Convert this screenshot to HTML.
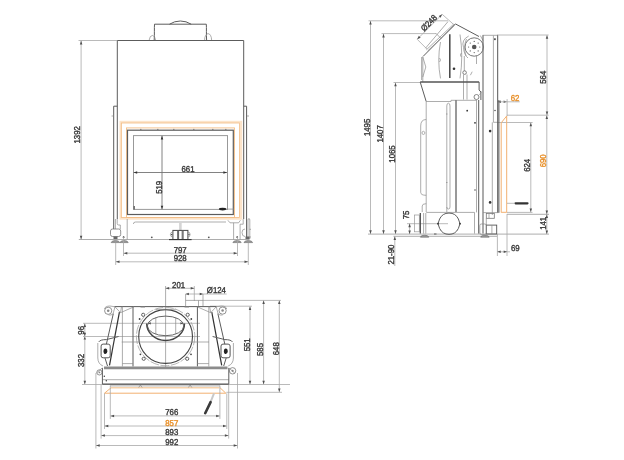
<!DOCTYPE html>
<html><head><meta charset="utf-8"><style>
html,body{margin:0;padding:0;background:#fff;width:624px;height:460px;overflow:hidden}
svg{display:block;will-change:transform}
text{font-family:"Liberation Sans",sans-serif;text-rendering:geometricPrecision}
.m{fill:none;stroke:#5c5c5c;stroke-width:1}
.t{fill:none;stroke:#8a8a8a;stroke-width:0.7}
.d{fill:none;stroke:#a8a8a8;stroke-width:0.8}
.dd{fill:none;stroke:#747474;stroke-width:0.9}
.o{fill:none;stroke:#f2b77a;stroke-width:1}
.k{fill:none;stroke:#333;stroke-width:1.4}
</style></head><body>
<svg width="624" height="460" viewBox="0 0 624 460">
<path class="m" d="M154.2,40 C154.6,34 154.2,28 154.5,24.2 L206.3,24.2 C206.6,28 206.2,34 206.6,40" />
<path class="m" d="M169.5,24.2 A20,20 0 0 1 191.2,24.2" />
<path class="t" d="M149.2,40 A3.3,6 0 0 1 155.6,40 M204.6,40 A3.3,6 0 0 1 211.6,40" />
<path class="m" d="M117.3,219 L117.3,40.5 L243.7,40.5 L243.7,219" />
<path class="m" d="M117.3,106.2 L113.7,106.2 L113.7,229 M243.7,106.2 L246.6,106.2 L246.6,239" />
<path class="t" d="M111.5,116 L113.6,116 M247,116 L249,116" />
<rect x="120.6" y="121.9" width="120.5" height="96.7" fill="none" stroke="#fce4ca" stroke-width="2.2"/>
<rect x="121.3" y="123" width="118.2" height="94.5" fill="none" stroke="#f3bb82" stroke-width="0.8"/>
<rect x="126.5" y="127.9" width="108" height="89.6" fill="none" stroke="#f3bd85" stroke-width="0.9"/>
<rect x="127.5" y="130.2" width="105.8" height="84.3" fill="none" stroke="#5c5c5c" stroke-width="1.2"/>
<rect x="133.5" y="135.6" width="94" height="73.8" fill="none" stroke="#999" stroke-width="1"/>
<path stroke="#666" stroke-width="0.7" d="M140,129.4 l1.5,0"/>
<path stroke="#666" stroke-width="0.7" d="M157,129.4 l1.5,0"/>
<path stroke="#666" stroke-width="0.7" d="M173,129.4 l1.5,0"/>
<path stroke="#666" stroke-width="0.7" d="M193,129.4 l1.5,0"/>
<path stroke="#666" stroke-width="0.7" d="M212,129.4 l1.5,0"/>
<path stroke="#666" stroke-width="0.7" d="M225,129.4 l1.5,0"/>
<ellipse cx="222.6" cy="209.1" rx="3.7" ry="1.4" fill="#222"/>
<path class="t" d="M226.50,209.10 L234.00,209.10"/>
<path fill="#555" d="M133.6,206 l1.2,0 l0,3.4 l-1.2,0z"/>
<path class="t" d="M133.4,224 Q133.4,222 135.5,222 L226,222" />
<path class="t" d="M127.2,219 L127.2,239.5" />
<path class="t" d="M227.9,220.3 L230,222.8 L238.6,222.8 L240.4,220.3" />
<path class="t" d="M233.6,222.8 L233.6,239.5" />
<path class="t" d="M78.80,239.50 L249.50,239.50"/>
<rect x="179.1" y="222.5" width="2.6" height="7.9" fill="#d4d4d4"/>
<rect x="172.9" y="230.4" width="15" height="9.1" fill="none" stroke="#444" stroke-width="1"/>
<path class="m" d="M177.7,230.4 V239.5 M178.6,230.4 V239.5 M182.2,230.4 V239.5 M183.1,230.4 V239.5" />
<path class="t" d="M172.9,232 Q170.4,232 170.4,234.5 Q170.4,237 172.9,237 M187.9,232 Q190.1,232 190.1,234.5 Q190.1,237 187.9,237" />
<circle cx="171.6" cy="234.6" r="0.7" fill="#333"/><circle cx="189" cy="234.6" r="0.7" fill="#333"/>
<path fill="none" stroke="#333" stroke-width="1.1" d="M169,239.6 L191.6,239.6"/>
<circle cx="151.8" cy="237.3" r="0.9" fill="#555"/><circle cx="208.8" cy="237.3" r="0.9" fill="#555"/>
<path class="t" d="M117.2,219 L117.2,223.5 Q117.2,225 118.7,225 L120.3,225 L120.3,229" />
<path class="t" d="M115.4,219 L115.4,229" />
<rect x="110.5" y="229" width="10.2" height="7.5" rx="2" fill="none" stroke="#777" stroke-width="0.8"/>
<rect x="113.5" y="236.5" width="4" height="2.6" fill="#666"/>
<path class="t" d="M243.2,219 L243.2,224.2 L240.1,224.2 L240.1,239.5" />
<path class="t" d="M245,229 Q242,229 242,232.5 Q242,236.5 245,236.5" />
<path class="t" d="M248,239 L248,220 Q248,218.5 249,218.5 Q249.8,218.5 249.8,220 L249.8,239" />
<path class="t" d="M249.5,229.3 L251,229.3 M249.5,237 L251,237" />
<rect x="245.5" y="236.5" width="4" height="2.6" fill="#666"/>
<path fill="#9a9a9a" stroke="#666" stroke-width="0.6" d="M111.2,242.6 C111.8,239.9 119.1,239.9 119.7,242.6 Z M120,242.6 C120.6,239.9 127.6,239.9 128.2,242.6 Z M232.9,242.6 C233.5,239.9 240.6,239.9 241.2,242.6 Z M244,242.6 C244.6,239.9 252,239.9 252.6,242.6 Z"/>
<circle cx="123.6" cy="237.2" r="0.9" fill="#333"/><circle cx="237.2" cy="237.1" r="0.9" fill="#333"/>
<path class="d" d="M78.50,40.50 L117.00,40.50"/>
<path class="d" d="M81.10,40.80 L81.10,239.40"/>
<path fill="#505050" d="M81.10,40.80 L82.35,44.40 L79.85,44.40Z"/>
<path fill="#505050" d="M81.10,239.40 L79.85,235.80 L82.35,235.80Z"/>
<path class="d" d="M123.50,237.00 L123.50,256.00"/>
<path class="d" d="M237.50,237.00 L237.50,256.00"/>
<path class="d" d="M123.70,253.20 L237.30,253.20"/>
<path fill="#505050" d="M123.70,253.20 L127.30,251.95 L127.30,254.45Z"/>
<path fill="#505050" d="M237.30,253.20 L233.70,254.45 L233.70,251.95Z"/>
<path class="d" d="M115.70,243.00 L115.70,265.00"/>
<path class="d" d="M248.30,243.00 L248.30,265.00"/>
<path class="d" d="M115.90,261.80 L248.10,261.80"/>
<path fill="#505050" d="M115.90,261.80 L119.50,260.55 L119.50,263.05Z"/>
<path fill="#505050" d="M248.10,261.80 L244.50,263.05 L244.50,260.55Z"/>
<path class="dd" d="M162.00,135.80 L162.00,209.30"/>
<path fill="#333" d="M162.00,135.80 L163.25,139.40 L160.75,139.40Z"/>
<path fill="#333" d="M162.00,209.30 L160.75,205.70 L163.25,205.70Z"/>
<path class="dd" d="M133.60,172.50 L227.00,172.50"/>
<path fill="#333" d="M133.60,172.50 L137.20,171.25 L137.20,173.75Z"/>
<path fill="#333" d="M227.00,172.50 L223.40,173.75 L223.40,171.25Z"/>
<text transform="translate(80.30,134.80) rotate(-90) scale(0.92,1)" text-anchor="middle" style="font-size:8.5px;fill:#3a3a3a;stroke:#3a3a3a;stroke-width:0.4">1392</text>
<text transform="translate(180.20,252.60) rotate(0) scale(0.92,1)" text-anchor="middle" style="font-size:8.5px;fill:#3a3a3a;stroke:#3a3a3a;stroke-width:0.4">797</text>
<text transform="translate(180.20,261.40) rotate(0) scale(0.92,1)" text-anchor="middle" style="font-size:8.5px;fill:#3a3a3a;stroke:#3a3a3a;stroke-width:0.4">928</text>
<text transform="translate(188.00,171.50) rotate(0) scale(0.92,1)" text-anchor="middle" style="font-size:8.5px;fill:#3a3a3a;stroke:#3a3a3a;stroke-width:0.4">661</text>
<text transform="translate(161.80,187.30) rotate(-90) scale(0.92,1)" text-anchor="middle" style="font-size:8.5px;fill:#3a3a3a;stroke:#3a3a3a;stroke-width:0.4">519</text>
<path class="d" d="M368.50,20.80 L448.00,20.80"/>
<path class="d" d="M370.50,21.00 L370.50,233.90"/>
<path fill="#505050" d="M370.50,21.00 L371.75,24.60 L369.25,24.60Z"/>
<path fill="#505050" d="M370.50,233.90 L369.25,230.30 L371.75,230.30Z"/>
<path class="d" d="M381.50,33.60 L436.00,33.60"/>
<path class="d" d="M383.50,33.80 L383.50,233.90"/>
<path fill="#505050" d="M383.50,33.80 L384.75,37.40 L382.25,37.40Z"/>
<path fill="#505050" d="M383.50,233.90 L382.25,230.30 L384.75,230.30Z"/>
<path class="d" d="M393.50,82.50 L421.00,82.50"/>
<path class="d" d="M395.50,82.70 L395.50,233.90"/>
<path fill="#505050" d="M395.50,82.70 L396.75,86.30 L394.25,86.30Z"/>
<path fill="#505050" d="M395.50,233.90 L394.25,230.30 L396.75,230.30Z"/>
<path class="t" d="M368.00,234.10 L549.00,234.10"/>
<path class="t" d="M393.50,236.30 L497.00,236.30"/>
<text transform="translate(370.20,127.40) rotate(-90) scale(0.92,1)" text-anchor="middle" style="font-size:8.5px;fill:#3a3a3a;stroke:#3a3a3a;stroke-width:0.4">1495</text>
<text transform="translate(383.10,133.90) rotate(-90) scale(0.92,1)" text-anchor="middle" style="font-size:8.5px;fill:#3a3a3a;stroke:#3a3a3a;stroke-width:0.4">1407</text>
<text transform="translate(395.00,154.00) rotate(-90) scale(0.92,1)" text-anchor="middle" style="font-size:8.5px;fill:#3a3a3a;stroke:#3a3a3a;stroke-width:0.4">1065</text>
<path class="d" d="M407.00,223.70 L448.00,223.70"/>
<path class="d" d="M409.60,223.60 L409.60,234.00"/>
<path fill="#505050" d="M409.60,223.60 L410.85,227.20 L408.35,227.20Z"/>
<path fill="#505050" d="M409.60,234.00 L408.35,230.40 L410.85,230.40Z"/>
<text transform="translate(409.40,214.90) rotate(-90) scale(0.92,1)" text-anchor="middle" style="font-size:8.5px;fill:#3a3a3a;stroke:#3a3a3a;stroke-width:0.4">75</text>
<path class="d" d="M394.80,236.50 L394.80,266.00"/>
<path fill="#505050" d="M394.80,236.50 L396.05,240.10 L393.55,240.10Z"/>
<text transform="translate(394.40,254.60) rotate(-90) scale(0.92,1)" text-anchor="middle" style="font-size:8.5px;fill:#3a3a3a;stroke:#3a3a3a;stroke-width:0.4">21-90</text>
<path class="d" d="M497.00,35.00 L548.60,35.00"/>
<path class="d" d="M547.00,35.20 L547.00,115.00"/>
<path fill="#505050" d="M547.00,35.20 L548.25,38.80 L545.75,38.80Z"/>
<path fill="#505050" d="M547.00,115.00 L545.75,111.40 L548.25,111.40Z"/>
<text transform="translate(546.40,77.20) rotate(-90) scale(0.92,1)" text-anchor="middle" style="font-size:8.5px;fill:#3a3a3a;stroke:#3a3a3a;stroke-width:0.4">564</text>
<path class="d" d="M506.70,115.20 L548.60,115.20"/>
<path fill="#505050" d="M497.70,101.80 L501.00,100.55 L501.00,103.05Z"/>
<path fill="#505050" d="M506.90,101.80 L503.60,103.05 L503.60,100.55Z"/>
<path class="d" d="M507.10,99.10 L507.10,116.00"/>
<text transform="translate(515.10,101.20) rotate(0) scale(0.92,1)" text-anchor="middle" style="font-size:8.5px;fill:#e8902a;stroke:#e8902a;stroke-width:0.4">62</text>
<path class="d" d="M497.70,101.80 L519.70,101.80"/>
<path class="d" d="M497.60,122.50 L532.60,122.50"/>
<path class="d" d="M530.80,122.70 L530.80,212.00"/>
<path fill="#505050" d="M530.80,122.70 L532.05,126.30 L529.55,126.30Z"/>
<path fill="#505050" d="M530.80,212.00 L529.55,208.40 L532.05,208.40Z"/>
<text transform="translate(530.20,165.30) rotate(-90) scale(0.92,1)" text-anchor="middle" style="font-size:8.5px;fill:#3a3a3a;stroke:#3a3a3a;stroke-width:0.4">624</text>
<path class="d" d="M546.80,115.20 L546.80,234.00"/>
<path fill="#505050" d="M546.80,115.40 L548.05,119.00 L545.55,119.00Z"/>
<path fill="#505050" d="M546.80,214.00 L545.55,210.40 L548.05,210.40Z"/>
<path fill="#505050" d="M546.80,214.40 L548.05,218.00 L545.55,218.00Z"/>
<path fill="#505050" d="M546.80,234.00 L545.55,230.40 L548.05,230.40Z"/>
<text transform="translate(546.30,160.80) rotate(-90) scale(0.92,1)" text-anchor="middle" style="font-size:8.5px;fill:#e8902a;stroke:#e8902a;stroke-width:0.4">690</text>
<text transform="translate(546.30,223.30) rotate(-90) scale(0.92,1)" text-anchor="middle" style="font-size:8.5px;fill:#3a3a3a;stroke:#3a3a3a;stroke-width:0.4">141</text>
<path class="t" d="M507.00,214.30 L549.00,214.30"/>
<path class="d" d="M497.40,234.00 L497.40,256.00"/>
<path class="d" d="M507.00,214.00 L507.00,256.00"/>
<path class="d" d="M497.40,251.80 L510.00,251.80"/>
<path fill="#505050" d="M497.40,251.80 L500.70,250.55 L500.70,253.05Z"/>
<path fill="#505050" d="M507.00,251.80 L503.70,253.05 L503.70,250.55Z"/>
<text transform="translate(515.30,251.30) rotate(0) scale(0.92,1)" text-anchor="middle" style="font-size:8.5px;fill:#3a3a3a;stroke:#3a3a3a;stroke-width:0.4">69</text>
<path class="d" d="M417.20,39.30 L442.20,14.30"/>
<path fill="#505050" d="M417.20,39.30 L418.86,35.87 L420.63,37.64Z"/>
<path fill="#505050" d="M442.20,14.30 L440.54,17.73 L438.77,15.96Z"/>
<path class="d" d="M417.20,39.30 L427.00,49.10"/>
<path class="d" d="M442.20,14.30 L453.80,24.60"/>
<path class="t" d="M435.80,33.20 L441.00,38.40"/>
<text transform="translate(430.90,25.00) rotate(-45) scale(0.92,1)" text-anchor="middle" style="font-size:8.5px;fill:#3a3a3a;stroke:#3a3a3a;stroke-width:0.4">Ø248</text>
<path class="m" d="M423.2,56.3 L455.4,23.9 L479,36.5" />
<path class="t" d="M425.5,48.2 L448,21.6" />
<path class="t" d="M426.4,49.8 L453.6,24.2 M427.6,51 L454.6,25.4" />
<path class="t" d="M422.8,56.5 L422.8,82" />
<path class="t" d="M422.8,57 L425.8,67 L422.8,77 M421.6,57 L421.6,80" />
<path fill="none" stroke="#444" stroke-width="1.5" d="M449.8,34.2 L449.8,78"/>
<path class="t" d="M440.5,42 Q437,60 440.5,78.4 M439.5,58 Q441.5,60 439.5,62" />
<path class="t" d="M460,34.5 Q463.5,56 460,78.4 M461.3,53 Q459.5,55 461.3,57" />
<circle cx="454" cy="68.8" r="1.3" fill="#333"/>
<circle cx="474.2" cy="47" r="9.2" fill="none" stroke="#666" stroke-width="0.9"/>
<path class="t" d="M466.5,39 Q463,47 466,56" />
<circle cx="474.2" cy="47" r="2.3" fill="#555"/>
<circle cx="479.80" cy="47.00" r="0.6" fill="#555"/>
<circle cx="478.16" cy="50.96" r="0.6" fill="#555"/>
<circle cx="474.20" cy="52.60" r="0.6" fill="#555"/>
<circle cx="470.24" cy="50.96" r="0.6" fill="#555"/>
<circle cx="468.60" cy="47.00" r="0.6" fill="#555"/>
<circle cx="470.24" cy="43.04" r="0.6" fill="#555"/>
<circle cx="474.20" cy="41.40" r="0.6" fill="#555"/>
<circle cx="478.16" cy="43.04" r="0.6" fill="#555"/>
<path class="t" d="M468.7,36 Q461,40 463.5,47.4 Q464,55 468,58" />
<path class="t" d="M464.3,56 L464.3,71 M463.5,74.5 L463.5,99.6 M467,74.5 L467,99.6" />
<circle cx="464.6" cy="72.6" r="1.8" fill="none" stroke="#666" stroke-width="0.8"/>
<path class="t" d="M470.4,75.2 L472.2,71.7" />
<path class="t" d="M476.5,56 L476.5,64" />
<path class="t" d="M482.6,35.3 L497.7,35.3" />
<path class="t" d="M493.4,35.6 L493.4,122.3 L497.7,122.3 M492.3,122.3 L492.3,215" />
<path fill="none" stroke="#555" stroke-width="1" d="M497.7,35.3 L497.7,212.8 M498.9,100 L498.9,212.8"/>
<rect x="494" y="38.3" width="1.8" height="1.8" fill="#555"/>
<path class="t" d="M480.3,35.5 L483,40.5" />
<circle cx="495" cy="110.5" r="0.7" fill="#333"/><circle cx="490.1" cy="131.1" r="1.3" fill="#333"/><circle cx="490.1" cy="202.4" r="1.3" fill="#333"/>
<path fill="none" stroke="#f2b070" stroke-width="1" d="M501.2,212.5 L501.2,122.8 L506.7,116 L506.7,212.5"/>
<path stroke="#f2b070" stroke-width="1" d="M501.2,212.3 L506.7,212.3"/>
<path class="d" d="M507.00,212.40 L532.50,212.40"/>
<path stroke="#333" stroke-width="2.2" stroke-linecap="round" d="M515.5,203.3 L527.5,203.3"/>
<path class="d" d="M507.00,203.30 L514.50,203.30"/>
<path fill="none" stroke="#555" stroke-width="1.5" d="M420.2,82 L479.1,82"/>
<path class="m" d="M420.2,82 L426.2,101.5 M479.1,82 L479.1,90 L480.9,92 L480.9,100" />
<path class="t" d="M426.2,101.5 L451,101.5 L451,100.3 L477,100.3" />
<circle cx="476.5" cy="97" r="2.5" fill="none" stroke="#777" stroke-width="0.9"/>
<path class="t" d="M479.5,95 L481.5,91.5" />
<path class="t" d="M426.2,101.5 L426.2,212" />
<path class="t" d="M420.7,126 Q420.7,119.5 426.2,119.5 M420.7,126 L420.7,192.3 Q420.7,195.3 426.2,195.3" />
<path class="t" d="M422.2,212 L422.2,206 Q422.2,203.7 426.2,203.7" />
<path fill="none" stroke="#999" stroke-width="0.8" d="M422,132.1 l1.4,-0.8 l1.4,0.8 l0,1.6 l-1.4,0.8 l-1.4,-0.8z"/>
<path class="t" d="M446.8,212 L446.8,106 Q446.8,103.2 448.4,103.2 Q450,103.2 450,106 L450,207 Q450,209 448.4,209 Q446.8,209 446.8,207" />
<path class="t" d="M446,114 L447.5,114 M446,182.5 L447.5,182.5" />
<path fill="none" stroke="#555" stroke-width="1.2" d="M456,100.3 L456,212"/>
<path class="t" d="M476.5,100.3 L476.5,212.4" />
<path class="m" d="M478.7,100 L478.7,233.6" />
<path fill="none" stroke="#666" stroke-width="1.1" d="M483,35.3 L483,233.6"/>
<circle cx="467.2" cy="110.7" r="0.9" fill="#333"/><circle cx="475" cy="122.8" r="0.9" fill="#333"/><circle cx="475" cy="190" r="0.7" fill="#333"/>
<path class="t" d="M426.2,212.4 L474.5,212.4" />
<path class="t" d="M474.5,212.4 L474.5,233.6" />
<rect x="414.4" y="215" width="4.9" height="16.8" fill="none" stroke="#999" stroke-width="0.7"/>
<path fill="none" stroke="#444" stroke-width="1.2" d="M420.3,213 L420.3,233.6"/>
<path class="t" d="M423.6,213 L423.6,233.6 M425.8,213 L425.8,233.6" />
<path class="m" d="M438,223.7 L439.6,219 A10.4,10.4 0 0 1 458.4,219 L460,223.7 L458.4,228.4 A10.4,10.4 0 0 1 439.6,228.4 Z" />
<circle cx="438" cy="223.7" r="0.9" fill="#333"/><circle cx="460" cy="223.7" r="0.9" fill="#333"/>
<path class="m" d="M434,234 L436.5,234" />
<path fill="#9a9a9a" stroke="#666" stroke-width="0.6" d="M420.4,237.2 C421,234.6 428.2,234.6 428.8,237.2 Z M480.6,237.2 C481.2,234.6 488.6,234.6 489.2,237.2 Z"/>
<rect x="486.3" y="213.4" width="8" height="4.9" fill="none" stroke="#777" stroke-width="0.8"/>
<path class="t" d="M486.3,218.3 L486.3,225.1 M489,214 L489,218 M483,212.6 L498.3,212.6" />
<rect x="486.3" y="225.1" width="10.4" height="8.9" fill="none" stroke="#555" stroke-width="0.9"/>
<path class="t" d="M491.9,225.1 L491.9,234" />
<rect x="479.8" y="224" width="6.5" height="10.5" rx="1.5" fill="none" stroke="#888" stroke-width="0.7"/>
<path class="d" d="M83.00,323.30 L200.00,323.30"/>
<path class="d" d="M83.00,336.50 L200.00,336.50"/>
<path class="d" d="M84.80,323.50 L84.80,336.30"/>
<path fill="#505050" d="M84.80,323.50 L86.05,327.10 L83.55,327.10Z"/>
<path fill="#505050" d="M84.80,336.30 L83.55,332.70 L86.05,332.70Z"/>
<path class="d" d="M84.80,336.70 L84.80,384.30"/>
<path fill="#505050" d="M84.80,336.70 L86.05,339.50 L83.55,339.50Z"/>
<path fill="#505050" d="M84.80,384.30 L83.55,380.70 L86.05,380.70Z"/>
<path class="d" d="M82.00,384.50 L290.00,384.50"/>
<text transform="translate(84.30,330.30) rotate(-90) scale(0.92,1)" text-anchor="middle" style="font-size:8.5px;fill:#3a3a3a;stroke:#3a3a3a;stroke-width:0.4">96</text>
<text transform="translate(84.30,360.50) rotate(-90) scale(0.92,1)" text-anchor="middle" style="font-size:8.5px;fill:#3a3a3a;stroke:#3a3a3a;stroke-width:0.4">332</text>
<path class="d" d="M203.00,300.40 L281.00,300.40"/>
<path class="d" d="M210.00,306.20 L252.00,306.20"/>
<path class="d" d="M250.00,306.40 L250.00,384.30"/>
<path fill="#505050" d="M250.00,306.40 L251.25,310.00 L248.75,310.00Z"/>
<path fill="#505050" d="M250.00,384.30 L248.75,380.70 L251.25,380.70Z"/>
<path class="d" d="M263.60,300.50 L263.60,384.30"/>
<path fill="#505050" d="M263.60,300.50 L264.85,304.10 L262.35,304.10Z"/>
<path fill="#505050" d="M263.60,384.30 L262.35,380.70 L264.85,380.70Z"/>
<path class="d" d="M279.30,300.50 L279.30,392.10"/>
<path fill="#505050" d="M279.30,300.50 L280.55,304.10 L278.05,304.10Z"/>
<path fill="#505050" d="M279.30,392.10 L278.05,388.50 L280.55,388.50Z"/>
<path class="d" d="M226.30,392.30 L282.00,392.30"/>
<text transform="translate(249.60,344.80) rotate(-90) scale(0.92,1)" text-anchor="middle" style="font-size:8.5px;fill:#3a3a3a;stroke:#3a3a3a;stroke-width:0.4">551</text>
<text transform="translate(263.20,349.50) rotate(-90) scale(0.92,1)" text-anchor="middle" style="font-size:8.5px;fill:#3a3a3a;stroke:#3a3a3a;stroke-width:0.4">585</text>
<text transform="translate(278.90,348.70) rotate(-90) scale(0.92,1)" text-anchor="middle" style="font-size:8.5px;fill:#3a3a3a;stroke:#3a3a3a;stroke-width:0.4">648</text>
<path class="t" d="M165.60,286.00 L165.60,368.00"/>
<path class="d" d="M194.30,286.00 L194.30,301.00"/>
<path class="d" d="M165.60,288.30 L194.30,288.30"/>
<path fill="#505050" d="M165.60,288.30 L169.20,287.05 L169.20,289.55Z"/>
<path fill="#505050" d="M194.30,288.30 L190.70,289.55 L190.70,287.05Z"/>
<text transform="translate(178.60,288.20) rotate(0) scale(0.92,1)" text-anchor="middle" style="font-size:8.5px;fill:#3a3a3a;stroke:#3a3a3a;stroke-width:0.4">201</text>
<path class="d" d="M185.60,294.00 L226.70,294.00"/>
<path fill="#505050" d="M185.60,294.00 L188.90,292.75 L188.90,295.25Z"/>
<path fill="#505050" d="M203.00,294.00 L199.70,295.25 L199.70,292.75Z"/>
<text transform="translate(216.40,292.70) rotate(0) scale(0.92,1)" text-anchor="middle" style="font-size:8.5px;fill:#3a3a3a;stroke:#3a3a3a;stroke-width:0.4">Ø124</text>
<path class="t" d="M185.6,294 L185.6,306.2 M203,294 L203,306.2 M198.5,300.4 L198.5,306.2" />
<path class="t" d="M185.60,300.40 L203.00,300.40"/>
<path class="m" d="M114.5,306.6 L216.5,306.6" />
<path class="m" d="M133,306.6 L133,366.5 M197.4,306.6 L197.4,366.5" />
<path class="t" d="M122.4,306.6 L122.4,366.5 M208.8,306.6 L208.8,366.5" />
<path class="m" d="M113.3,313.7 L106.4,344.1" />
<path fill="none" stroke="#333" stroke-width="1.2" d="M119.4,312.2 L109.5,365.4"/>
<path class="t" d="M115,306.8 L120.5,312.7 L134,306.8 M120.5,312.7 L121.5,306.8" />
<path class="m" d="M217.9,313.7 L224.8,344.1" />
<path fill="none" stroke="#333" stroke-width="1.2" d="M211.8,312.2 L221.7,365.4"/>
<path class="t" d="M216.2,306.8 L210.7,312.7 L197.2,306.8 M210.7,312.7 L209.7,306.8" />
<circle cx="108.2" cy="310.8" r="3.6" fill="none" stroke="#777" stroke-width="0.8"/>
<circle cx="108.2" cy="310.8" r="1.26" fill="#888"/>
<circle cx="222.6" cy="310.6" r="3.6" fill="none" stroke="#777" stroke-width="0.8"/>
<circle cx="222.6" cy="310.6" r="1.26" fill="#888"/>
<circle cx="99.4" cy="372.4" r="2.6" fill="none" stroke="#777" stroke-width="0.8"/>
<circle cx="99.4" cy="372.4" r="0.91" fill="#888"/>
<circle cx="232.6" cy="370.8" r="3.2" fill="none" stroke="#777" stroke-width="0.8"/>
<circle cx="232.6" cy="370.8" r="1.12" fill="#888"/>
<path class="t" d="M104.5,309 Q105,306 110,306 L115,306.8 L113,314 Q111,315.5 108.6,315 M226.7,309 Q226.2,306 221.2,306 L216.2,306.8 L218.2,314 Q220.2,315.5 222.6,315" />
<path class="m" d="M98.8,341.9 Q100,339.6 106.4,339.6 L118.6,336.5" />
<path class="t" d="M97.8,343 L97.8,358 Q98,364 103,366" />
<rect x="101.1" y="344.1" width="9.1" height="13.7" rx="2" fill="none" stroke="#555" stroke-width="1"/>
<ellipse cx="105.4" cy="351.2" rx="1.9" ry="2.8" fill="#222"/>
<path class="m" d="M105,358 L107.5,366" />
<path class="m" d="M232.4,341.9 Q231.2,339.6 224.8,339.6 L212.6,336.5" />
<path class="t" d="M233.4,343 L233.4,358 Q233.2,364 228.2,366" />
<rect x="221" y="344.1" width="9.1" height="13.7" rx="2" fill="none" stroke="#555" stroke-width="1"/>
<ellipse cx="225.8" cy="351.2" rx="1.9" ry="2.8" fill="#222"/>
<path class="m" d="M226.2,358 L223.7,366" />
<circle cx="165.6" cy="336.5" r="26.9" fill="none" stroke="#444" stroke-width="1.1"/>
<circle cx="165.6" cy="336.5" r="29.2" fill="none" stroke="#999" stroke-width="0.7" stroke-dasharray="9 1.5"/>
<path fill="none" stroke="#444" stroke-width="1.5" d="M146.7,323.5 A18.9,17 0 0 0 184.5,323.5"/>
<ellipse cx="165.6" cy="325.9" rx="18.2" ry="9.8" fill="none" stroke="#555" stroke-width="0.9"/>
<path class="t" d="M155.8,309.3 L175.6,309.3" />
<path class="t" d="M155.8,317 L155.8,334.5 M175.7,317 L175.7,334.5" />
<path class="t" d="M121.70,342.00 L209.00,342.00"/>
<circle cx="143.2" cy="314.8" r="1.6" fill="none" stroke="#555" stroke-width="0.9"/>
<circle cx="187.7" cy="314.8" r="1.6" fill="none" stroke="#555" stroke-width="0.9"/>
<circle cx="143.7" cy="358.8" r="1.6" fill="none" stroke="#555" stroke-width="0.9"/>
<circle cx="187.2" cy="358.8" r="1.6" fill="none" stroke="#555" stroke-width="0.9"/>
<circle cx="139.6" cy="319" r="0.9" fill="#444"/>
<circle cx="191.3" cy="319" r="0.9" fill="#444"/>
<circle cx="140.4" cy="354.3" r="0.9" fill="#444"/>
<circle cx="191" cy="354.3" r="0.9" fill="#444"/>
<path fill="none" stroke="#8c8c8c" stroke-width="2.8" d="M104,367.9 L227.5,367.9"/>
<path class="t" d="M122.4,363.6 L133,363.6 M197.4,363.6 L208.8,363.6" />
<path class="t" d="M102.4,379.7 L228.8,379.7" />
<path fill="none" stroke="#555" stroke-width="1.1" d="M102.4,384.1 L228.8,384.1"/>
<path class="t" d="M110,385.9 L220,385.9" />
<path class="m" d="M102.4,368 L102.4,384.1 M228.8,368 L228.8,384.1" />
<circle cx="104.3" cy="376.3" r="0.7" fill="#333"/><circle cx="106.3" cy="380.8" r="0.7" fill="#333"/>
<path class="t" d="M96.5,373 L102.4,367.8 M234.7,373 L228.8,367.8" />
<path fill="none" stroke="#f2b070" stroke-width="1" d="M104.5,393.2 L111.3,387.6 M104.5,393.2 L225.8,393.2 L219.9,387.6"/>
<path fill="none" stroke="#f7d2aa" stroke-width="1.5" d="M111,387.8 L219.5,387.8"/>
<path class="t" d="M138.7,387.5 L140.4,385 L142.1,387.5 M188.4,387.5 L190.1,385 L191.8,387.5" />
<path stroke="#c8c8c8" stroke-width="2" d="M210.4,402.5 L214,393.4"/>
<path stroke="#3a3a3a" stroke-width="2.6" stroke-linecap="round" d="M205.2,413.2 L210.6,402.1"/>
<path class="d" d="M110.30,385.50 L110.30,418.90"/>
<path class="d" d="M219.90,385.50 L219.90,418.90"/>
<path class="d" d="M110.50,415.90 L219.70,415.90"/>
<path fill="#505050" d="M110.50,415.90 L114.10,414.65 L114.10,417.15Z"/>
<path fill="#505050" d="M219.70,415.90 L216.10,417.15 L216.10,414.65Z"/>
<path class="d" d="M104.50,393.30 L104.50,429.00"/>
<path class="d" d="M226.80,393.30 L226.80,429.00"/>
<path class="d" d="M104.70,426.00 L226.60,426.00"/>
<path fill="#505050" d="M104.70,426.00 L108.30,424.75 L108.30,427.25Z"/>
<path fill="#505050" d="M226.60,426.00 L223.00,427.25 L223.00,424.75Z"/>
<path class="d" d="M101.10,385.00 L101.10,438.60"/>
<path class="d" d="M228.70,385.00 L228.70,438.60"/>
<path class="d" d="M101.30,435.60 L228.50,435.60"/>
<path fill="#505050" d="M101.30,435.60 L104.90,434.35 L104.90,436.85Z"/>
<path fill="#505050" d="M228.50,435.60 L224.90,436.85 L224.90,434.35Z"/>
<path class="d" d="M95.90,373.00 L95.90,448.50"/>
<path class="d" d="M237.50,373.00 L237.50,448.50"/>
<path class="d" d="M96.10,445.50 L237.30,445.50"/>
<path fill="#505050" d="M96.10,445.50 L99.70,444.25 L99.70,446.75Z"/>
<path fill="#505050" d="M237.30,445.50 L233.70,446.75 L233.70,444.25Z"/>
<text transform="translate(171.80,415.30) rotate(0) scale(0.92,1)" text-anchor="middle" style="font-size:8.5px;fill:#3a3a3a;stroke:#3a3a3a;stroke-width:0.4">766</text>
<text transform="translate(171.80,425.50) rotate(0) scale(0.92,1)" text-anchor="middle" style="font-size:8.5px;fill:#e8902a;stroke:#e8902a;stroke-width:0.4">857</text>
<text transform="translate(171.80,435.10) rotate(0) scale(0.92,1)" text-anchor="middle" style="font-size:8.5px;fill:#3a3a3a;stroke:#3a3a3a;stroke-width:0.4">893</text>
<text transform="translate(171.80,445.10) rotate(0) scale(0.92,1)" text-anchor="middle" style="font-size:8.5px;fill:#3a3a3a;stroke:#3a3a3a;stroke-width:0.4">992</text>
<path fill="#505050" d="M147.80,323.30 L150.80,322.20 L150.80,324.40Z"/>
<path fill="#505050" d="M183.40,323.30 L180.40,324.40 L180.40,322.20Z"/>
<rect x="140.5" y="306" width="4.5" height="1.4" fill="#777"/><rect x="184.5" y="306" width="4.5" height="1.4" fill="#777"/></svg>
</body></html>
